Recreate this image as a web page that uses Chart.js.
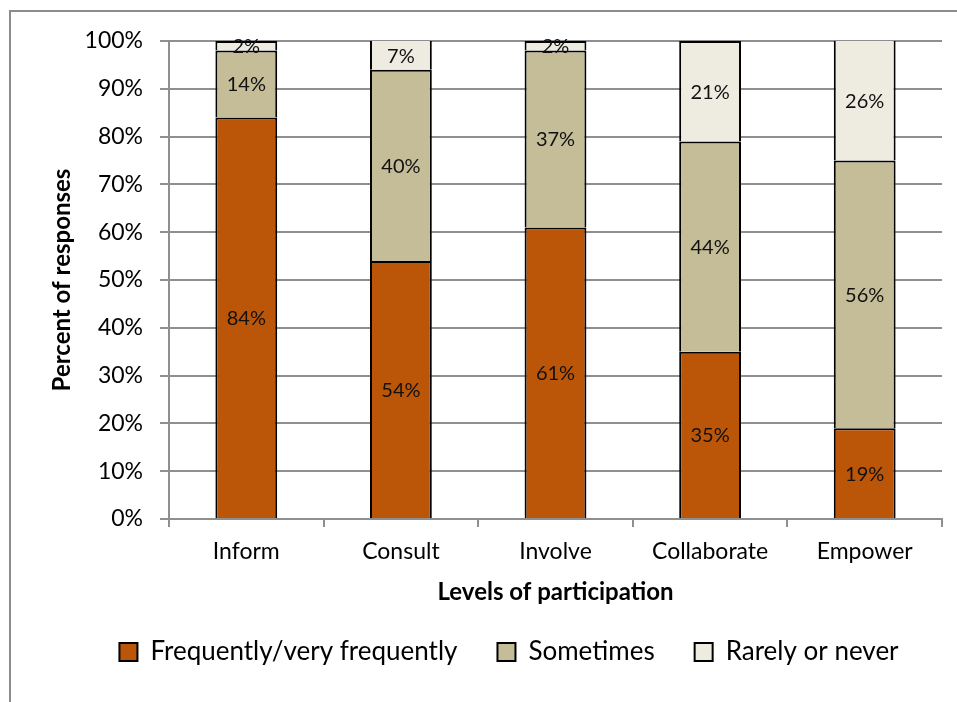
<!DOCTYPE html>
<html>
<head>
<meta charset="utf-8">
<script src="https://cdn.jsdelivr.net/npm/chart.js@4.4.1/dist/chart.umd.min.js"></script>
<style>
  html, body { margin: 0; padding: 0; background: #fff; }
  #wrap { position: relative; width: 957px; height: 702px; overflow: hidden; }
  #frame { position: absolute; left: 9px; top: 10px; width: 2000px; height: 2000px;
           border-left: 2px solid #8c8c8c; border-top: 2px solid #8c8c8c; }
  canvas { position: absolute; left: 0; top: 0; }
</style>
</head>
<body>
<div id="wrap">
  <div id="frame"></div>
  <canvas id="chart" width="957" height="702"></canvas>
</div>
<script>
var levels = ['Inform', 'Consult', 'Involve', 'Collaborate', 'Empower'];
var frequently = [84, 54, 61, 35, 19];
var sometimes = [14, 40, 37, 44, 56];
var rarely = [2, 7, 2, 21, 26];

var FONT = 'Lato, "Open Sans", sans-serif';
var GRID = '#8f8f8f';

// writes each segment's percentage in the middle of the segment
var segmentLabels = {
  id: 'segmentLabels',
  afterDatasetsDraw: function(chart) {
    var ctx = chart.ctx;
    ctx.save();
    ctx.font = '20px ' + FONT;
    ctx.fillStyle = '#111';
    ctx.textAlign = 'center';
    ctx.textBaseline = 'middle';
    chart.data.datasets.forEach(function(ds, i) {
      chart.getDatasetMeta(i).data.forEach(function(bar, j) {
        var top = Math.max(bar.y, chart.chartArea.top);
        ctx.fillText(ds.data[j] + '%', bar.x, (top + bar.base) / 2 + 1);
      });
    });
    ctx.restore();
  }
};

// nudge the legend row a little to the right
var legendShift = {
  id: 'legendShift',
  afterLayout: function(chart) {
    chart.legend.left += 28;
    chart.legend.right += 28;
  }
};

function series(label, data, color) {
  return {
    label: label,
    data: data,
    backgroundColor: color,
    borderColor: '#000',
    borderWidth: 2,
    clip: 0
  };
}

var ctx = document.getElementById('chart').getContext('2d');
var chart = new Chart(ctx, {
  type: 'bar',
  data: {
    labels: levels,
    datasets: [
      series('Frequently/very frequently', frequently, '#bb5608'),
      series('Sometimes', sometimes, '#c4bd97'),
      series('Rarely or never', rarely, '#eeece1')
    ]
  },
  options: {
    responsive: false,
    animation: false,
    barPercentage: 0.4,
    categoryPercentage: 1,
    layout: { padding: { left: 20, right: 15, top: 41, bottom: 27 } },
    plugins: {
      tooltip: { enabled: false },
      legend: {
        position: 'bottom',
        labels: {
          font: { family: FONT, size: 26 },
          color: '#000',
          boxWidth: 18,
          boxHeight: 18,
          padding: 40
        }
      }
    },
    scales: {
      x: {
        stacked: true,
        afterFit: function(scale) { scale.height = 80; },
        grid: { drawOnChartArea: false, tickLength: 8, color: GRID, lineWidth: 2 },
        border: { color: GRID, width: 2 },
        ticks: { font: { family: FONT, size: 23 }, color: '#000', padding: 11 },
        title: {
          display: true,
          text: 'Levels of participation',
          font: { family: FONT, size: 24, weight: 'bold' },
          color: '#000',
          padding: { top: 0, bottom: -8 }
        }
      },
      y: {
        stacked: true,
        min: 0,
        max: 100,
        afterFit: function(scale) { scale.width = 149; },
        grid: { tickLength: 9, color: GRID, lineWidth: 2 },
        border: { color: GRID, width: 2 },
        ticks: {
          stepSize: 10,
          padding: 17,
          font: { family: FONT, size: 23 },
          color: '#000',
          callback: function(v) { return v + '%'; }
        },
        title: {
          display: true,
          text: 'Percent of responses',
          font: { family: FONT, size: 24, weight: 'bold' },
          color: '#000',
          padding: { top: 28, bottom: 0 }
        }
      }
    }
  },
  plugins: [segmentLabels, legendShift]
});
</script>
</body>
</html>
